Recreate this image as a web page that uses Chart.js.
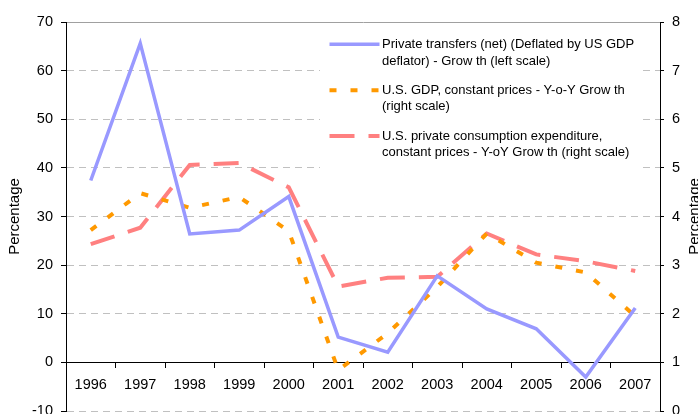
<!DOCTYPE html>
<html>
<head>
<meta charset="utf-8">
<script src="https://cdn.jsdelivr.net/npm/chart.js@4.4.1/dist/chart.umd.min.js"></script>
<style>
    html, body { margin: 0; padding: 0; overflow: hidden; background: #fff; }
    #wrap { position: relative; width: 698px; height: 430px; }
</style>
</head>
<body>
<div id="wrap"><canvas id="chart"></canvas></div>
<script>
// ---------------- DATA ----------------
const years = ["1996", "1997", "1998", "1999", "2000", "2001", "2002", "2003", "2004", "2005", "2006", "2007"];

// left scale
const transfers = [37.4, 65.6, 26.4, 27.2, 34.1, 5.2, 2.1, 17.8, 11.0, 6.9, -3.0, 11.2];

// right scale
const gdpGrowth = [3.72, 4.48, 4.18, 4.40, 3.70, 0.84, 1.60, 2.55, 3.65, 3.05, 2.85, 1.95];
const consumptionGrowth = [3.43, 3.77, 5.06, 5.10, 4.60, 2.56, 2.74, 2.76, 3.65, 3.22, 3.08, 2.88];

const leftTicks = [-10, 0, 10, 20, 30, 40, 50, 60, 70];
const rightTicks = [0, 1, 2, 3, 4, 5, 6, 7, 8];

const seriesNames = [
    ["Private transfers (net) (Deflated by US GDP", "deflator) - Grow th (left scale)"],
    ["U.S. GDP, constant prices - Y-o-Y Grow th", "(right scale)"],
    ["U.S. private consumption expenditure,", "constant prices - Y-oY Grow th (right scale)"]
];
const axisTitle = "Percentage";

const FONT = "Arial, 'Liberation Sans', sans-serif";

// ---------------- PLUGINS ----------------
const legendBox = {
    id: "legendBox",
    afterDatasetsDraw(chart) {
        const ctx = chart.ctx;
        ctx.save();
        ctx.fillStyle = "#fff";
        ctx.fillRect(320, 26, 318, 145);

        ctx.font = "13px " + FONT;
        ctx.textBaseline = "middle";
        ctx.textAlign = "left";

        chart.data.datasets.forEach((ds, i) => {
            const y = 44.3 + i * 45.9;
            ctx.strokeStyle = ds.borderColor;
            ctx.lineWidth = ds.borderWidth;
            ctx.setLineDash(ds.borderDash || []);
            ctx.beginPath();
            ctx.moveTo(329.5, y);
            ctx.lineTo(379.5, y);
            ctx.stroke();

            ctx.fillStyle = "#000";
            seriesNames[i].forEach((line, j) => {
                ctx.fillText(line, 382, y + j * 16.7);
            });
        });
        ctx.restore();
    }
};

const axisTitles = {
    id: "axisTitles",
    afterDraw(chart) {
        const { ctx, chartArea } = chart;
        const cy = (chartArea.top + chartArea.bottom) / 2;
        ctx.save();
        ctx.font = "15px " + FONT;
        ctx.fillStyle = "#000";
        ctx.textAlign = "center";
        ctx.textBaseline = "middle";
        [15, 695].forEach(x => {
            ctx.save();
            ctx.translate(x, cy);
            ctx.rotate(-Math.PI / 2);
            ctx.fillText(axisTitle, 0, 0);
            ctx.restore();
        });
        ctx.restore();
    }
};

// ---------------- CHART ----------------
const tickFont = { family: FONT, size: 14.5 };

new Chart(document.getElementById("chart"), {
    type: "line",
    data: {
        labels: years,
        datasets: [
            {
                label: seriesNames[0].join(" "),
                data: transfers,
                yAxisID: "y",
                borderColor: "#9999FF",
                borderWidth: 3.5,
                borderDash: [],
                pointRadius: 0,
                tension: 0
            },
            {
                label: seriesNames[1].join(" "),
                data: gdpGrowth,
                yAxisID: "y1",
                borderColor: "#FF9900",
                borderWidth: 4,
                borderDash: [7, 14],
                pointRadius: 0,
                tension: 0
            },
            {
                label: seriesNames[2].join(" "),
                data: consumptionGrowth,
                yAxisID: "y1",
                borderColor: "#FF8080",
                borderWidth: 4,
                borderDash: [25, 14],
                pointRadius: 0,
                tension: 0
            }
        ]
    },
    options: {
        responsive: true,
        maintainAspectRatio: false,
        animation: false,
        layout: {
            padding: { top: 22, bottom: 19, left: 0, right: 0 }
        },
        plugins: {
            legend: { display: false },
            tooltip: { enabled: false }
        },
        scales: {
            x: {
                type: "category",
                position: { y: 0 },
                offset: true,
                grid: {
                    offset: true,
                    drawOnChartArea: false,
                    tickLength: 5,
                    tickColor: "#000"
                },
                border: { color: "#000", width: 1 },
                ticks: {
                    font: tickFont,
                    color: "#000",
                    padding: 9,
                    maxRotation: 0,
                    autoSkip: false
                }
            },
            x2: {
                type: "category",
                position: "top",
                offset: true,
                grid: { display: true, drawOnChartArea: false, drawTicks: false },
                border: { color: "#a0a0a0", width: 1 },
                ticks: { display: false }
            },
            y: {
                position: "left",
                min: leftTicks[0],
                max: leftTicks[leftTicks.length - 1],
                afterFit: s => { s.width = 66; },
                grid: {
                    color: c => (c.tick && (c.tick.value === 0 || c.tick.value === 70)) ? "rgba(0,0,0,0)" : "#c0c0c0",
                    lineWidth: 1,
                    tickLength: 5,
                    tickColor: "#000",
                    tickBorderDash: []
                },
                border: { color: "#000", width: 1, dash: [7, 5] },
                ticks: {
                    stepSize: leftTicks[1] - leftTicks[0],
                    font: tickFont,
                    color: "#000",
                    padding: 8
                }
            },
            y1: {
                position: "right",
                min: rightTicks[0],
                max: rightTicks[rightTicks.length - 1],
                afterFit: s => { s.width = 38; },
                grid: {
                    drawOnChartArea: false,
                    tickLength: 4,
                    tickColor: "#000"
                },
                border: { color: "#000", width: 1 },
                ticks: {
                    stepSize: rightTicks[1] - rightTicks[0],
                    font: tickFont,
                    color: "#000",
                    padding: 8
                }
            }
        }
    },
    plugins: [legendBox, axisTitles]
});
</script>
</body>
</html>
